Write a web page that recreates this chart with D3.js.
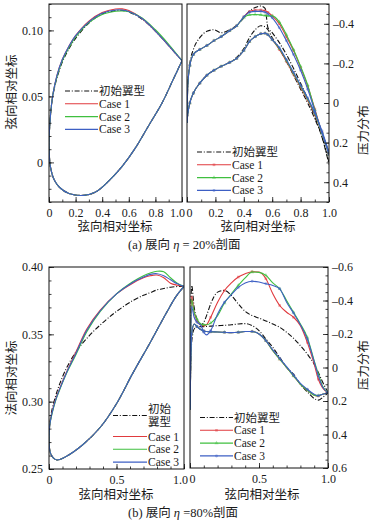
<!DOCTYPE html>
<html><head><meta charset="utf-8">
<script src="https://cdn.jsdelivr.net/npm/d3@7"></script>
<style>
body{margin:0;background:#fff}
svg{display:block}
text{font-family:"Liberation Serif","Times New Roman",Times,"DejaVu Serif","Noto Sans CJK SC",serif;fill:#1a1a1a}
</style>
</head><body>
<svg id="c" width="375" height="525"></svg>
<script>
// ---------- legend / series ----------
const seriesNames = ["初始翼型", "Case 1", "Case 2", "Case 3"];
const seriesColors = ["#111111", "#e03a3e", "#3fbf3f", "#3d5fc4"];

// ---------- (a) eta = 20% : airfoil shape ----------
const aShapeUpperX = [0, 0.005, 0.015, 0.032, 0.06, 0.10, 0.15, 0.2, 0.3, 0.4, 0.5, 0.55, 0.6, 0.7, 0.8, 0.9, 1.0];
const aUpperInit  = [0.015, 0.027, 0.040, 0.052, 0.064, 0.076, 0.086, 0.094, 0.1055, 0.1125, 0.1150, 0.1152, 0.1140, 0.1085, 0.0995, 0.0885, 0.077];
const aUpperCase1 = [0.015, 0.027, 0.040, 0.053, 0.066, 0.078, 0.088, 0.096, 0.1070, 0.1135, 0.1162, 0.1163, 0.1150, 0.1090, 0.0995, 0.0885, 0.077];
const aUpperCase2 = [0.015, 0.027, 0.040, 0.053, 0.065, 0.077, 0.087, 0.095, 0.1060, 0.1120, 0.1145, 0.1148, 0.1142, 0.1095, 0.1005, 0.0895, 0.077];
const aUpperCase3 = [0.015, 0.027, 0.040, 0.053, 0.066, 0.078, 0.088, 0.096, 0.1065, 0.1130, 0.1155, 0.1155, 0.1143, 0.1090, 0.0995, 0.0885, 0.077];
const aShapeLowerX = [0, 0.003, 0.01, 0.038, 0.08, 0.15, 0.26, 0.35, 0.45, 0.55, 0.65, 0.75, 0.85, 0.93, 1.0];
const aShapeLowerY = [0.015, 0.005, -0.003, -0.013, -0.019, -0.0235, -0.025, -0.0225, -0.014, -0.003, 0.011, 0.028, 0.045, 0.062, 0.077];

// ---------- (a) eta = 20% : pressure ----------
const aCpX = [0, 0.005, 0.02, 0.045, 0.09, 0.14, 0.19, 0.24, 0.3, 0.35, 0.4, 0.44, 0.48, 0.52, 0.55, 0.57, 0.6, 0.65, 0.7, 0.75, 0.8, 0.85, 0.9, 0.95, 1.0];
const aCpUpperInit  = [0.1, -0.08, -0.2, -0.27, -0.33, -0.362, -0.37, -0.355, -0.37, -0.392, -0.43, -0.465, -0.482, -0.49, -0.478, -0.38, -0.355, -0.305, -0.245, -0.175, -0.10, -0.02, 0.07, 0.17, 0.31];
const aCpUpperCase1 = [0.1, -0.08, -0.19, -0.245, -0.27, -0.29, -0.315, -0.335, -0.365, -0.39, -0.435, -0.462, -0.470, -0.470, -0.466, -0.458, -0.44, -0.40, -0.335, -0.265, -0.18, -0.085, 0.03, 0.15, 0.26];
const aCpUpperCase2 = [0.1, -0.08, -0.19, -0.245, -0.27, -0.29, -0.315, -0.335, -0.365, -0.39, -0.432, -0.445, -0.447, -0.445, -0.442, -0.440, -0.44, -0.41, -0.345, -0.27, -0.185, -0.09, 0.035, 0.15, 0.26];
const aCpUpperCase3 = [0.1, -0.08, -0.19, -0.245, -0.27, -0.29, -0.315, -0.335, -0.365, -0.39, -0.435, -0.458, -0.463, -0.463, -0.458, -0.450, -0.43, -0.38, -0.315, -0.245, -0.165, -0.07, 0.04, 0.15, 0.26];
const aCpLowerInit  = [0.1, 0.06, 0.0, -0.05, -0.1, -0.14, -0.165, -0.185, -0.205, -0.23, -0.275, -0.33, -0.37, -0.39, -0.385, -0.37, -0.33, -0.275, -0.21, -0.14, -0.07, 0.0, 0.08, 0.17, 0.30];
const aCpLowerCase1 = [0.1, 0.06, 0.0, -0.05, -0.1, -0.14, -0.165, -0.185, -0.205, -0.225, -0.265, -0.31, -0.335, -0.35, -0.352, -0.345, -0.32, -0.27, -0.21, -0.145, -0.08, -0.015, 0.06, 0.15, 0.25];
const aCpLowerCase2 = [0.1, 0.06, 0.0, -0.05, -0.1, -0.14, -0.165, -0.185, -0.205, -0.225, -0.265, -0.31, -0.335, -0.35, -0.352, -0.345, -0.32, -0.275, -0.215, -0.15, -0.085, -0.02, 0.055, 0.15, 0.25];
const aCpLowerCase3 = [0.1, 0.06, 0.0, -0.05, -0.1, -0.14, -0.165, -0.185, -0.205, -0.225, -0.265, -0.31, -0.335, -0.35, -0.352, -0.345, -0.32, -0.28, -0.22, -0.155, -0.09, -0.025, 0.05, 0.14, 0.25];

// ---------- (b) eta = 80% : airfoil shape ----------
const bShapeUpperX = [0, 0.005, 0.02, 0.05, 0.08, 0.13, 0.2, 0.28, 0.38, 0.5, 0.62, 0.7, 0.75, 0.8, 0.85, 0.9, 0.95, 1.0];
const bUpperInit  = [0.272, 0.283, 0.293, 0.3045, 0.3134, 0.325, 0.337, 0.347, 0.357, 0.367, 0.375, 0.379, 0.381, 0.383, 0.384, 0.385, 0.3855, 0.3856];
const bUpperCase1 = [0.272, 0.282, 0.291, 0.302, 0.310, 0.322, 0.337, 0.354, 0.368, 0.380, 0.388, 0.392, 0.3935, 0.394, 0.392, 0.388, 0.3865, 0.3856];
const bUpperCase2 = [0.272, 0.282, 0.290, 0.301, 0.309, 0.321, 0.335, 0.352, 0.367, 0.380, 0.389, 0.3935, 0.3955, 0.3968, 0.3965, 0.392, 0.388, 0.3856];
const bUpperCase3 = [0.272, 0.282, 0.2905, 0.3015, 0.3095, 0.3215, 0.336, 0.353, 0.3675, 0.380, 0.3885, 0.3925, 0.3945, 0.395, 0.3935, 0.3905, 0.3875, 0.3856];
const bShapeLowerX = [0, 0.003, 0.01, 0.03, 0.06, 0.13, 0.25, 0.38, 0.5, 0.62, 0.75, 0.87, 0.94, 1.0];
const bShapeLowerY = [0.272, 0.266, 0.262, 0.2585, 0.2567, 0.2595, 0.268, 0.281, 0.2985, 0.321, 0.344, 0.366, 0.378, 0.3856];

// ---------- (b) eta = 80% : pressure ----------
const bCpX = [0, 0.004, 0.012, 0.03, 0.05, 0.08, 0.1, 0.12, 0.15, 0.2, 0.25, 0.3, 0.35, 0.4, 0.45, 0.5, 0.55, 0.6, 0.65, 0.7, 0.75, 0.8, 0.85, 0.9, 0.93, 0.96, 1.0];
const bCpUpperInit  = [0.25, -0.2, -0.49, -0.36, -0.29, -0.255, -0.27, -0.31, -0.38, -0.45, -0.46, -0.43, -0.38, -0.335, -0.31, -0.295, -0.278, -0.26, -0.24, -0.21, -0.175, -0.13, -0.08, -0.02, 0.03, 0.085, 0.15];
const bCpUpperCase1 = [0.25, -0.15, -0.42, -0.33, -0.28, -0.255, -0.25, -0.255, -0.30, -0.39, -0.46, -0.505, -0.54, -0.56, -0.572, -0.57, -0.53, -0.44, -0.37, -0.33, -0.30, -0.25, -0.15, -0.02, 0.07, 0.12, 0.15];
const bCpUpperCase2 = [0.25, -0.15, -0.40, -0.33, -0.29, -0.26, -0.255, -0.255, -0.265, -0.31, -0.385, -0.44, -0.49, -0.535, -0.57, -0.568, -0.55, -0.505, -0.47, -0.40, -0.33, -0.26, -0.18, -0.04, 0.04, 0.11, 0.15];
const bCpUpperCase3 = [0.25, -0.10, -0.36, -0.30, -0.27, -0.25, -0.21, -0.195, -0.22, -0.32, -0.39, -0.435, -0.478, -0.505, -0.515, -0.51, -0.50, -0.49, -0.47, -0.39, -0.325, -0.255, -0.17, -0.035, 0.05, 0.115, 0.15];
const bCpLowerInit  = [0.25, 0.05, -0.15, -0.23, -0.24, -0.244, -0.244, -0.245, -0.247, -0.25, -0.252, -0.255, -0.26, -0.262, -0.25, -0.22, -0.17, -0.12, -0.06, 0.0, 0.04, 0.10, 0.145, 0.185, 0.195, 0.18, 0.15];
const bCpLowerCase1 = [0.25, 0.05, -0.2, -0.26, -0.245, -0.225, -0.218, -0.215, -0.213, -0.212, -0.21, -0.208, -0.21, -0.215, -0.215, -0.2, -0.16, -0.10, -0.05, 0.0, 0.05, 0.10, 0.135, 0.165, 0.17, 0.16, 0.15];
const bCpLowerCase2 = [0.25, 0.05, -0.2, -0.26, -0.245, -0.225, -0.218, -0.215, -0.213, -0.212, -0.21, -0.208, -0.21, -0.215, -0.215, -0.2, -0.16, -0.10, -0.05, 0.0, 0.05, 0.10, 0.135, 0.165, 0.168, 0.16, 0.15];
const bCpLowerCase3 = [0.25, 0.05, -0.2, -0.26, -0.245, -0.225, -0.218, -0.215, -0.213, -0.212, -0.21, -0.208, -0.21, -0.215, -0.215, -0.2, -0.16, -0.105, -0.055, -0.005, 0.045, 0.095, 0.13, 0.16, 0.168, 0.16, 0.15];

// ---------- tick labels ----------
const aShapeXTicks = [0, 0.2, 0.4, 0.6, 0.8, 1.0];
const aShapeXLabels = ["0", "0.2", "0.4", "0.6", "0.8", "1.0"];
const aShapeYTicks = [0, 0.05, 0.10];
const aShapeYLabels = ["0", "0.05", "0.10"];
const aCpYTicks = [-0.4, -0.2, 0, 0.2, 0.4];
const aCpYLabels = ["\u20130.4", "\u20130.2", "0", "0.2", "0.4"];
const bXTicks = [0, 0.5, 1.0];
const bXLabels = ["0", "0.5", "1.0"];
const bShapeYTicks = [0.25, 0.30, 0.35, 0.40];
const bShapeYLabels = ["0.25", "0.30", "0.35", "0.40"];
const bCpYTicks = [-0.6, -0.4, -0.2, 0, 0.2, 0.4, 0.6];
const bCpYLabels = ["\u20130.6", "\u20130.4", "\u20130.2", "0", "0.2", "0.4", "0.6"];

// ================= drawing =================
const FONT = '"Liberation Serif","Times New Roman",Times,"DejaVu Serif","Noto Sans CJK SC",serif';
const svg = d3.select("#c").attr("font-family", FONT);
svg.append("rect").attr("width", 375).attr("height", 525).attr("fill", "#fff");
const symbols = [null, d3.symbolSquare, d3.symbolTriangle, d3.symbolCircle];
const dashInit = "5,1.8,1,1.8";
let clipId = 0;

function range(a, b, step) { const r = []; for (let v = a; v <= b + 1e-9; v += step) r.push(+v.toFixed(4)); return r; }

function makePanel(c) {
  const xs = d3.scaleLinear().domain(c.xDomain).range([c.x0, c.x1]);
  const ys = d3.scaleLinear().domain(c.yDomain).range([c.y1, c.y0]);
  const g = svg.append("g");
  const id = "clip" + (clipId++);
  svg.append("clipPath").attr("id", id).append("rect")
    .attr("x", c.x0).attr("y", c.y0).attr("width", c.x1 - c.x0).attr("height", c.y1 - c.y0);
  const plot = g.append("g").attr("clip-path", `url(#${id})`);
  g.append("g").attr("transform", `translate(0,${c.y1})`)
    .call(d3.axisBottom(xs).tickValues(c.xMinor).tickSize(-2.5).tickFormat(""));
  const xMaj = g.append("g").attr("transform", `translate(0,${c.y1})`)
    .call(d3.axisBottom(xs).tickValues(c.xTicks).tickSize(-5).tickPadding(6)
      .tickFormat((d, i) => c.xLabels[i]));
  xMaj.selectAll(".tick text").attr("dx", (d, i) => (i === 0 ? c.firstShift || 0 : (i === c.xTicks.length - 1 ? c.lastShift || 0 : 0)));
  const left = c.ySide === "left";
  const tx = left ? c.x0 : c.x1;
  const mk = () => (left ? d3.axisLeft(ys) : d3.axisRight(ys));
  g.append("g").attr("transform", `translate(${tx},0)`)
    .call(mk().tickValues(c.yMinor).tickSize(-2.5).tickFormat(""));
  g.append("g").attr("transform", `translate(${tx},0)`)
    .call(mk().tickValues(c.yTicks).tickSize(-5).tickPadding(left ? 6 : 4)
      .tickFormat((d, i) => c.yLabels[i]));
  g.selectAll(".domain").remove();
  g.selectAll("g").attr("font-family", FONT);
  g.selectAll(".tick line").attr("stroke", "#111").attr("stroke-width", 0.8);
  g.selectAll(".tick text").attr("font-size", 12).attr("fill", "#1a1a1a").style("font-family", FONT);
  g.append("rect").attr("x", c.x0).attr("y", c.y0).attr("width", c.x1 - c.x0).attr("height", c.y1 - c.y0)
    .attr("fill", "none").attr("stroke", "#111").attr("stroke-width", 1);
  return { xs, ys, plot, g };
}

function shapePoints(ux, uy, lx, ly) {
  const up = ux.map((x, i) => [x, uy[i]]).reverse();
  const lo = lx.map((x, i) => [x, ly[i]]).slice(1);
  return up.concat(lo);
}

function drawShapes(p, upperX, uppers, lowerX, lowerY) {
  const line = d3.line().x(d => p.xs(d[0])).y(d => p.ys(d[1])).curve(d3.curveCatmullRom.alpha(0.5));
  [0, 1, 2, 3].forEach(k => {
    p.plot.append("path").attr("d", line(shapePoints(upperX, uppers[k], lowerX, lowerY)))
      .attr("fill", "none").attr("stroke", seriesColors[k]).attr("stroke-width", 1.1)
      .attr("stroke-dasharray", k === 0 ? dashInit : null);
  });
}

function drawCp(p, xArr, uppers, lowers, markerStep) {
  const line = d3.line().x(d => p.xs(d[0])).y(d => p.ys(d[1])).curve(d3.curveMonotoneX);
  [0, 1, 2, 3].forEach(k => {
    [uppers[k], lowers[k]].forEach(arr => {
      const pts = xArr.map((x, i) => [x, arr[i]]);
      p.plot.append("path").attr("d", line(pts)).attr("fill", "none")
        .attr("stroke", seriesColors[k]).attr("stroke-width", 1.1)
        .attr("stroke-dasharray", k === 0 ? dashInit : null);
      if (k > 0) {
        p.plot.selectAll(null).data(pts.filter((d, i) => i > 1 && i % markerStep === 0)).enter()
          .append("path").attr("d", d3.symbol().type(symbols[k]).size(7))
          .attr("transform", d => `translate(${p.xs(d[0])},${p.ys(d[1])})`)
          .attr("fill", seriesColors[k]).attr("opacity", 0.45);
      }
    });
  });
}

function legend(x0, x1, ys, withMarkers, initTwoLines, fs) {
  const g = svg.append("g");
  seriesNames.forEach((name, k) => {
    const y = ys[k];
    g.append("line").attr("x1", x0).attr("x2", x1).attr("y1", y).attr("y2", y)
      .attr("stroke", seriesColors[k]).attr("stroke-width", 1.1)
      .attr("stroke-dasharray", k === 0 ? dashInit : null);
    if (withMarkers && k > 0) {
      g.append("path").attr("d", d3.symbol().type(symbols[k]).size(7))
        .attr("transform", `translate(${(x0 + x1) / 2},${y})`).attr("fill", seriesColors[k]).attr("opacity", 0.45);
    }
    if (k === 0 && initTwoLines) {
      const t = g.append("text").attr("font-size", fs);
      t.append("tspan").attr("x", x1 + 1).attr("y", y - 6.5).attr("dy", "0.35em").text(name.slice(0, 2));
      t.append("tspan").attr("x", x1 + 1).attr("y", y + 6.5).attr("dy", "0.35em").text(name.slice(2));
    } else {
      g.append("text").attr("x", x1 + 1).attr("y", y).attr("dy", "0.35em").attr("font-size", fs).text(name);
    }
  });
}

function text(x, y, s, size, rot) {
  const t = svg.append("text").attr("x", x).attr("y", y).attr("text-anchor", "middle")
    .attr("dy", "0.35em").attr("font-size", size).text(s);
  if (rot) t.attr("transform", `rotate(${rot},${x},${y})`);
  return t;
}

// ----- panel a-left -----
const pA1 = makePanel({ x0: 49, x1: 182, y0: 4, y1: 202, xDomain: [0, 1], yDomain: [-0.03, 0.12],
  xTicks: aShapeXTicks, xLabels: aShapeXLabels, xMinor: range(0, 1, 0.1), lastShift: -5,
  yTicks: aShapeYTicks, yLabels: aShapeYLabels, yMinor: range(-0.03, 0.12, 0.01), ySide: "left" });
drawShapes(pA1, aShapeUpperX, [aUpperInit, aUpperCase1, aUpperCase2, aUpperCase3], aShapeLowerX, aShapeLowerY);
legend(65, 98, [91, 103.8, 116.6, 129.4], false, false, 11.5);

// ----- panel a-right -----
const pA2 = makePanel({ x0: 187, x1: 329, y0: 4, y1: 202, xDomain: [0, 1], yDomain: [0.5, -0.5],
  xTicks: aShapeXTicks, xLabels: aShapeXLabels, xMinor: range(0, 1, 0.1), firstShift: 2,
  yTicks: aCpYTicks, yLabels: aCpYLabels, yMinor: range(-0.5, 0.5, 0.05), ySide: "right" });
drawCp(pA2, aCpX, [aCpUpperInit, aCpUpperCase1, aCpUpperCase2, aCpUpperCase3],
  [aCpLowerInit, aCpLowerCase1, aCpLowerCase2, aCpLowerCase3], 1);
legend(197, 231, [152, 164.8, 177.6, 190.4], true, false, 11.5);

// ----- panel b-left -----
const pB1 = makePanel({ x0: 49, x1: 184, y0: 267, y1: 469, xDomain: [0, 1], yDomain: [0.25, 0.40],
  xTicks: bXTicks, xLabels: bXLabels, xMinor: range(0, 1, 0.1), lastShift: -4,
  yTicks: bShapeYTicks, yLabels: bShapeYLabels, yMinor: range(0.25, 0.40, 0.01), ySide: "left" });
drawShapes(pB1, bShapeUpperX, [bUpperInit, bUpperCase1, bUpperCase2, bUpperCase3], bShapeLowerX, bShapeLowerY);
legend(113, 147, [415.5, 436.5, 449.3, 462.1], false, true, 11.5);

// ----- panel b-right -----
const pB2 = makePanel({ x0: 190, x1: 328, y0: 267, y1: 468, xDomain: [0, 1], yDomain: [0.6, -0.6],
  xTicks: bXTicks, xLabels: bXLabels, xMinor: range(0, 1, 0.1), firstShift: 2,
  yTicks: bCpYTicks, yLabels: bCpYLabels, yMinor: range(-0.6, 0.6, 0.05), ySide: "right" });
drawCp(pB2, bCpX, [bCpUpperInit, bCpUpperCase1, bCpUpperCase2, bCpUpperCase3],
  [bCpLowerInit, bCpLowerCase1, bCpLowerCase2, bCpLowerCase3], 2);
legend(200, 233, [417.5, 430.3, 443.1, 455.9], true, false, 11.5);

// ----- titles -----
text(115, 227, "弦向相对坐标", 12.5);
text(258, 227, "弦向相对坐标", 12.5);
text(116, 495, "弦向相对坐标", 12.5);
text(262, 495, "弦向相对坐标", 12.5);
text(12, 92, "弦向相对坐标", 12.5, -90);
text(12, 378, "法向相对坐标", 12.5, -90);
text(364, 130, "压力分布", 12.5, -90);
text(364, 365, "压力分布", 12.5, -90);

function caption(x, y, pre, post) {
  const t = svg.append("text").attr("x", x).attr("y", y).attr("dy", "0.35em").attr("font-size", 12.5);
  t.append("tspan").text(pre);
  t.append("tspan").attr("font-style", "italic").text("η");
  t.append("tspan").text(post);
}
caption(128, 245, "(a) 展向 ", " = 20%剖面");
caption(128, 513, "(b) 展向 ", " =80%剖面");
</script>
</body></html>
